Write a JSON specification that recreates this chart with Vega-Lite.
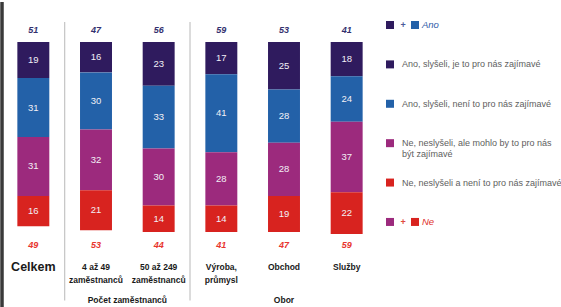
{
  "$schema": "https://vega.github.io/schema/vega-lite/v6.json",
  "padding": 0,
  "spacing": 0,
  "background": "white",
  "config": {"view": {"stroke": null}, "font": "Liberation Sans"},
  "datasets": {
    "hodnoty": [
      {"kat": "Celkem", "odpoved": "Ano, slyšeli, je to pro nás zajímavé", "hodnota": 19},
      {"kat": "Celkem", "odpoved": "Ano, slyšeli, není to pro nás zajímavé", "hodnota": 31},
      {"kat": "Celkem", "odpoved": "Ne, neslyšeli, ale mohlo by to pro nás být zajímavé", "hodnota": 31},
      {"kat": "Celkem", "odpoved": "Ne, neslyšeli a není to pro nás zajímavé", "hodnota": 16},
      {"kat": "4 až 49\nzaměstnanců", "odpoved": "Ano, slyšeli, je to pro nás zajímavé", "hodnota": 16},
      {"kat": "4 až 49\nzaměstnanců", "odpoved": "Ano, slyšeli, není to pro nás zajímavé", "hodnota": 30},
      {"kat": "4 až 49\nzaměstnanců", "odpoved": "Ne, neslyšeli, ale mohlo by to pro nás být zajímavé", "hodnota": 32},
      {"kat": "4 až 49\nzaměstnanců", "odpoved": "Ne, neslyšeli a není to pro nás zajímavé", "hodnota": 21},
      {"kat": "50 až 249\nzaměstnanců", "odpoved": "Ano, slyšeli, je to pro nás zajímavé", "hodnota": 23},
      {"kat": "50 až 249\nzaměstnanců", "odpoved": "Ano, slyšeli, není to pro nás zajímavé", "hodnota": 33},
      {"kat": "50 až 249\nzaměstnanců", "odpoved": "Ne, neslyšeli, ale mohlo by to pro nás být zajímavé", "hodnota": 30},
      {"kat": "50 až 249\nzaměstnanců", "odpoved": "Ne, neslyšeli a není to pro nás zajímavé", "hodnota": 14},
      {"kat": "Výroba,\nprůmysl", "odpoved": "Ano, slyšeli, je to pro nás zajímavé", "hodnota": 17},
      {"kat": "Výroba,\nprůmysl", "odpoved": "Ano, slyšeli, není to pro nás zajímavé", "hodnota": 41},
      {"kat": "Výroba,\nprůmysl", "odpoved": "Ne, neslyšeli, ale mohlo by to pro nás být zajímavé", "hodnota": 28},
      {"kat": "Výroba,\nprůmysl", "odpoved": "Ne, neslyšeli a není to pro nás zajímavé", "hodnota": 14},
      {"kat": "Obchod", "odpoved": "Ano, slyšeli, je to pro nás zajímavé", "hodnota": 25},
      {"kat": "Obchod", "odpoved": "Ano, slyšeli, není to pro nás zajímavé", "hodnota": 28},
      {"kat": "Obchod", "odpoved": "Ne, neslyšeli, ale mohlo by to pro nás být zajímavé", "hodnota": 28},
      {"kat": "Obchod", "odpoved": "Ne, neslyšeli a není to pro nás zajímavé", "hodnota": 19},
      {"kat": "Služby", "odpoved": "Ano, slyšeli, je to pro nás zajímavé", "hodnota": 18},
      {"kat": "Služby", "odpoved": "Ano, slyšeli, není to pro nás zajímavé", "hodnota": 24},
      {"kat": "Služby", "odpoved": "Ne, neslyšeli, ale mohlo by to pro nás být zajímavé", "hodnota": 37},
      {"kat": "Služby", "odpoved": "Ne, neslyšeli a není to pro nás zajímavé", "hodnota": 22}
    ],
    "kategorie": [
      {"kat": "Celkem", "skupina": "Celkem", "ano": 51, "ne": 49},
      {"kat": "4 až 49\nzaměstnanců", "skupina": "Počet zaměstnanců", "ano": 47, "ne": 53},
      {"kat": "50 až 249\nzaměstnanců", "skupina": "Počet zaměstnanců", "ano": 56, "ne": 44},
      {"kat": "Výroba,\nprůmysl", "skupina": "Obor", "ano": 59, "ne": 41},
      {"kat": "Obchod", "skupina": "Obor", "ano": 53, "ne": 47},
      {"kat": "Služby", "skupina": "Obor", "ano": 41, "ne": 59}
    ],
    "legenda_ctverce": [
      {"poradi": 1, "odpoved": "Ano, slyšeli, je to pro nás zajímavé", "druhy": false},
      {"poradi": 1, "odpoved": "Ano, slyšeli, není to pro nás zajímavé", "druhy": true},
      {"poradi": 2, "odpoved": "Ano, slyšeli, je to pro nás zajímavé", "druhy": false},
      {"poradi": 3, "odpoved": "Ano, slyšeli, není to pro nás zajímavé", "druhy": false},
      {"poradi": 4, "odpoved": "Ne, neslyšeli, ale mohlo by to pro nás být zajímavé", "druhy": false},
      {"poradi": 5, "odpoved": "Ne, neslyšeli a není to pro nás zajímavé", "druhy": false},
      {"poradi": 6, "odpoved": "Ne, neslyšeli, ale mohlo by to pro nás být zajímavé", "druhy": false},
      {"poradi": 6, "odpoved": "Ne, neslyšeli a není to pro nás zajímavé", "druhy": true}
    ],
    "legenda_texty": [
      {"poradi": 2, "popis": "Ano, slyšeli, je to pro nás zajímavé"},
      {"poradi": 3, "popis": "Ano, slyšeli, není to pro nás zajímavé"},
      {"poradi": 4, "popis": "Ne, neslyšeli, ale mohlo by to pro nás\nbýt zajímavé"},
      {"poradi": 5, "popis": "Ne, neslyšeli a není to pro nás zajímavé"}
    ],
    "legenda_souhrn": [
      {"poradi": 1, "popis": "Ano"},
      {"poradi": 6, "popis": "Ne"}
    ]
  },
  "hconcat": [
    {
      "width": 376,
      "height": 307,
      "layer": [
        {
          "data": {"name": "hodnoty"},
          "transform": [
            {"calculate": "indexof(['Ano, slyšeli, je to pro nás zajímavé','Ano, slyšeli, není to pro nás zajímavé','Ne, neslyšeli, ale mohlo by to pro nás být zajímavé','Ne, neslyšeli a není to pro nás zajímavé'], datum.odpoved)", "as": "ord"},
            {"stack": "hodnota", "groupby": ["kat"], "sort": [{"field": "ord", "order": "ascending"}], "as": ["y0", "y1"]}
          ],
          "mark": {"type": "bar"},
          "encoding": {
            "x": {"field": "kat", "type": "nominal", "sort": null, "axis": null,
                  "scale": {"paddingInner": 0.49, "paddingOuter": 0.245}},
            "y": {"field": "y0", "type": "quantitative", "axis": null,
                  "scale": {"domain": [-21.05, 140.5], "reverse": true, "nice": false, "zero": false}},
            "y2": {"field": "y1"},
            "color": {"field": "odpoved", "type": "nominal", "legend": null,
                      "scale": {"domain": ["Ano, slyšeli, je to pro nás zajímavé", "Ano, slyšeli, není to pro nás zajímavé", "Ne, neslyšeli, ale mohlo by to pro nás být zajímavé", "Ne, neslyšeli a není to pro nás zajímavé"],
                                "range": ["#2f1b5e", "#2361a8", "#9c2a7d", "#d8231f"]}}
          }
        },
        {
          "data": {"name": "hodnoty"},
          "transform": [
            {"calculate": "indexof(['Ano, slyšeli, je to pro nás zajímavé','Ano, slyšeli, není to pro nás zajímavé','Ne, neslyšeli, ale mohlo by to pro nás být zajímavé','Ne, neslyšeli a není to pro nás zajímavé'], datum.odpoved)", "as": "ord"},
            {"stack": "hodnota", "groupby": ["kat"], "sort": [{"field": "ord", "order": "ascending"}], "as": ["y0", "y1"]},
            {"calculate": "(datum.y0 + datum.y1) / 2", "as": "ystred"}
          ],
          "mark": {"type": "text", "color": "#f2f0f6", "fontSize": 9.5, "baseline": "middle"},
          "encoding": {
            "x": {"field": "kat", "type": "nominal", "sort": null},
            "y": {"field": "ystred", "type": "quantitative"},
            "text": {"field": "hodnota", "type": "quantitative"}
          }
        },
        {
          "data": {"name": "kategorie"},
          "mark": {"type": "text", "color": "#33306e", "fontSize": 9, "fontWeight": "bold", "fontStyle": "italic", "baseline": "middle"},
          "encoding": {
            "x": {"field": "kat", "type": "nominal", "sort": null},
            "y": {"datum": -6.3, "type": "quantitative"},
            "text": {"field": "ano", "type": "quantitative"}
          }
        },
        {
          "data": {"name": "kategorie"},
          "mark": {"type": "text", "color": "#e8352e", "fontSize": 9, "fontWeight": "bold", "fontStyle": "italic", "baseline": "middle"},
          "encoding": {
            "x": {"field": "kat", "type": "nominal", "sort": null},
            "y": {"datum": 106.8, "type": "quantitative"},
            "text": {"field": "ne", "type": "quantitative"}
          }
        },
        {
          "data": {"name": "kategorie"},
          "mark": {"type": "text", "color": "#1a1a1a", "fontWeight": "bold", "baseline": "middle", "lineBreak": "\n", "lineHeight": 13},
          "encoding": {
            "x": {"field": "kat", "type": "nominal", "sort": null},
            "y": {"datum": 118.6, "type": "quantitative"},
            "text": {"field": "kat", "type": "nominal"},
            "size": {"condition": {"test": "datum.skupina == 'Celkem'", "value": 12.5}, "value": 8.5}
          }
        },
        {
          "data": {"name": "kategorie"},
          "transform": [
            {"window": [{"op": "row_number", "as": "rn"}], "groupby": ["skupina"]},
            {"filter": "datum.rn == 1 && datum.skupina != 'Celkem'"}
          ],
          "mark": {"type": "rule", "color": "#c4c4c4", "strokeWidth": 1.2},
          "encoding": {
            "x": {"field": "kat", "type": "nominal", "sort": null, "bandPosition": -0.48},
            "y": {"datum": -10.5, "type": "quantitative"},
            "y2": {"datum": 136}
          }
        },
        {
          "data": {"name": "kategorie"},
          "transform": [{"filter": "datum.skupina == 'Celkem'"}],
          "mark": {"type": "rule", "color": "#3a3a3a", "strokeWidth": 3.5},
          "encoding": {
            "x": {"field": "kat", "type": "nominal", "sort": null, "bandPosition": -0.48},
            "y": {"datum": -21.05, "type": "quantitative"},
            "y2": {"datum": 140.5}
          }
        },
        {
          "data": {"name": "kategorie"},
          "transform": [
            {"window": [{"op": "row_number", "as": "rn"}], "groupby": ["skupina"]},
            {"filter": "datum.rn == 1 && datum.skupina == 'Počet zaměstnanců'"}
          ],
          "mark": {"type": "text", "color": "#1a1a1a", "fontWeight": "bold", "fontSize": 8.5, "baseline": "middle"},
          "encoding": {
            "x": {"field": "kat", "type": "nominal", "sort": null, "bandPosition": 1.48},
            "y": {"datum": 135.8, "type": "quantitative"},
            "text": {"field": "skupina", "type": "nominal"}
          }
        },
        {
          "data": {"name": "kategorie"},
          "transform": [
            {"window": [{"op": "row_number", "as": "rn"}], "groupby": ["skupina"]},
            {"filter": "datum.rn == 2 && datum.skupina == 'Obor'"}
          ],
          "mark": {"type": "text", "color": "#1a1a1a", "fontWeight": "bold", "fontSize": 8.5, "baseline": "middle"},
          "encoding": {
            "x": {"field": "kat", "type": "nominal", "sort": null},
            "y": {"datum": 135.8, "type": "quantitative"},
            "text": {"field": "skupina", "type": "nominal"}
          }
        }
      ]
    },
    {
      "width": 185,
      "height": 307,
      "layer": [
        {
          "data": {"name": "legenda_ctverce"},
          "transform": [{"filter": "!datum.druhy"}],
          "mark": {"type": "square", "size": 64, "opacity": 1, "filled": true},
          "encoding": {
            "x": {"value": 12},
            "y": {"field": "poradi", "type": "quantitative", "axis": null,
                  "scale": {"domain": [0.416, 8.21], "reverse": true, "nice": false, "zero": false}},
            "color": {"field": "odpoved", "type": "nominal", "legend": null,
                      "scale": {"domain": ["Ano, slyšeli, je to pro nás zajímavé", "Ano, slyšeli, není to pro nás zajímavé", "Ne, neslyšeli, ale mohlo by to pro nás být zajímavé", "Ne, neslyšeli a není to pro nás zajímavé"],
                                "range": ["#2f1b5e", "#2361a8", "#9c2a7d", "#d8231f"]}}
          }
        },
        {
          "data": {"name": "legenda_ctverce"},
          "transform": [{"filter": "datum.druhy"}],
          "mark": {"type": "square", "size": 64, "opacity": 1, "filled": true},
          "encoding": {
            "x": {"value": 37},
            "y": {"field": "poradi", "type": "quantitative"},
            "color": {"field": "odpoved", "type": "nominal", "legend": null}
          }
        },
        {
          "data": {"name": "legenda_souhrn"},
          "mark": {"type": "text", "fontSize": 9, "fontWeight": "bold", "baseline": "middle", "align": "center", "x": 25},
          "encoding": {
            "y": {"field": "poradi", "type": "quantitative"},
            "text": {"value": "+"},
            "color": {"condition": {"test": "datum.popis == 'Ano'", "value": "#4a5a9a"}, "value": "#e04a40"}
          }
        },
        {
          "data": {"name": "legenda_souhrn"},
          "mark": {"type": "text", "fontSize": 9.5, "fontStyle": "italic", "baseline": "middle", "align": "left", "x": 44},
          "encoding": {
            "y": {"field": "poradi", "type": "quantitative"},
            "text": {"field": "popis", "type": "nominal"},
            "color": {"condition": {"test": "datum.popis == 'Ano'", "value": "#2d5ba8"}, "value": "#e0302a"}
          }
        },
        {
          "data": {"name": "legenda_texty"},
          "mark": {"type": "text", "fontSize": 9, "baseline": "middle", "align": "left", "x": 24, "color": "#5e5e5e", "lineBreak": "\n", "lineHeight": 11},
          "encoding": {
            "y": {"field": "poradi", "type": "quantitative"},
            "text": {"field": "popis", "type": "nominal"}
          }
        }
      ]
    }
  ]
}
